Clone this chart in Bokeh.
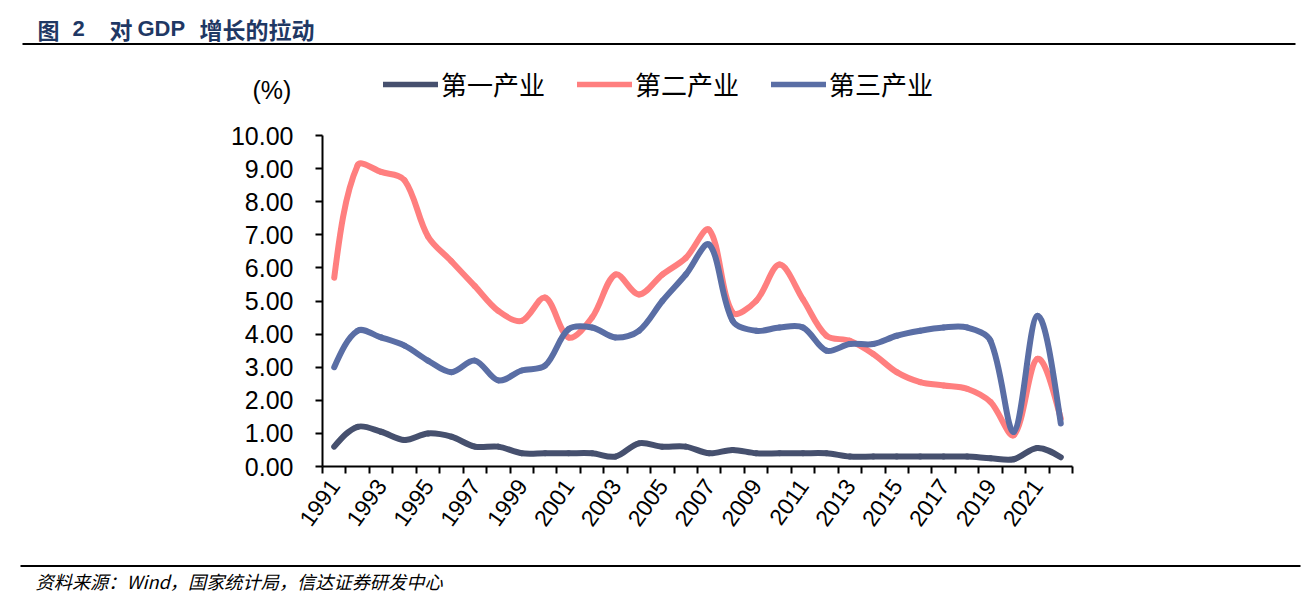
import math
from bokeh.plotting import figure
from bokeh.layouts import column
from bokeh.models import (Range1d, FixedTicker, SingleIntervalTicker, NumeralTickFormatter,
                          ColumnDataSource)
from bokeh.core.properties import value
from bokeh.embed import file_html
from bokeh.resources import INLINE

# ---------------- data ----------------
years = list(range(1991, 2023))
primary = [0.6, 1.2, 1.05, 0.8, 1.0, 0.9, 0.6, 0.6, 0.4, 0.4, 0.4, 0.4, 0.3, 0.7, 0.6, 0.6,
           0.4, 0.5, 0.4, 0.4, 0.4, 0.4, 0.3, 0.3, 0.3, 0.3, 0.3, 0.3, 0.25, 0.22, 0.56, 0.28]
secondary = [5.7, 9.1, 8.9, 8.65, 6.95, 6.2, 5.45, 4.7, 4.4, 5.1, 3.9, 4.5, 5.8, 5.2, 5.8, 6.3,
             7.15, 4.65, 5.0, 6.1, 5.05, 3.95, 3.8, 3.4, 2.85, 2.55, 2.45, 2.35, 1.95, 0.95, 3.25, 1.45]
tertiary = [3.0, 4.1, 3.9, 3.65, 3.2, 2.85, 3.2, 2.6, 2.9, 3.05, 4.15, 4.2, 3.9, 4.1, 5.0, 5.8,
            6.7, 4.4, 4.1, 4.2, 4.2, 3.5, 3.7, 3.7, 3.95, 4.1, 4.2, 4.2, 3.8, 1.05, 4.55, 1.3]
series_names = ["第一产业", "第二产业", "第三产业"]
series_colors = ["#46506E", "#FF7F7F", "#5A6EA5"]
label_years = [y for y in years if y % 2 == 1]
y_ticks_interval = 1
title_parts = ["图", "2", "对", "GDP", "增长的拉动"]
unit_text = "(%)"
source_text = "资料来源：Wind，国家统计局，信达证券研发中心"

CJK = "Noto Sans CJK SC"
LAT = "Liberation Sans"

# ---------------- layout ----------------
W = 1309
H_HEAD, H_MAIN, H_FOOT = 120, 430, 60
ML, MR, MT, MB = 322, 237, 15, 84
frame_w = W - ML - MR
frame_h = H_MAIN - MT - MB
x0, x1 = years[0] - 0.5, years[-1] + 0.5
y0, y1 = 0, 10
sx = frame_w / (x1 - x0)   # px per year
sy = frame_h / (y1 - y0)   # px per unit


def no_align(f):
    try:
        f.frame_align = False
    except Exception:
        pass


def blank(h):
    f = figure(width=W, height=h, output_backend="svg", toolbar_location=None,
               x_range=Range1d(0, W), y_range=Range1d(h, 0),
               x_axis_type=None, y_axis_type=None,
               min_border=0, min_border_left=0, min_border_right=0,
               min_border_top=0, min_border_bottom=0)
    f.outline_line_color = None
    f.grid.visible = False
    f.background_fill_color = "white"
    f.border_fill_color = "white"
    no_align(f)
    return f


# ---------------- header: title, rule, unit, legend ----------------
head = blank(H_HEAD)
title_x = [37, 72, 109, 137, 199]
title_font = [CJK, LAT, CJK, LAT, CJK]
title_size = ["22px", "22px", "23px", "22px", "23px"]
for tx, tt, tf, ts in zip(title_x, title_parts, title_font, title_size):
    head.text(x=[tx], y=[28], text=[tt], text_font=value(tf), text_font_style="bold",
              text_font_size=ts, text_color="#1F3864", text_baseline="middle")
head.line(x=[22, 1295], y=[43.5, 43.5], line_color="black", line_width=2)
head.text(x=[252], y=[89], text=[unit_text], text_font=value(LAT), text_font_size="25px",
          text_color="black", text_baseline="middle")
for col, name in zip(series_colors, series_names):
    # legend proxy (its points lie outside the visible header area)
    head.line(x=[-60, -50], y=[-60, -60], line_color=col, line_width=5.5, line_cap="round",
              legend_label=name)
lg = head.legend[0]
lg.orientation = "horizontal"
lg.location = (383, 18)
lg.border_line_color = None
lg.background_fill_alpha = 0
lg.padding = 0
lg.margin = 0
lg.spacing = 32
lg.glyph_width = 55
lg.glyph_height = 30
lg.label_height = 30
lg.label_standoff = 3
lg.label_text_font = CJK
lg.label_text_font_size = "26px"
lg.label_text_color = "black"
lg.label_text_baseline = "middle"

# ---------------- main chart ----------------
p = figure(width=W, height=H_MAIN, output_backend="svg", toolbar_location=None,
           x_range=Range1d(x0, x1), y_range=Range1d(y0, y1),
           min_border_left=ML, min_border_right=MR, min_border_top=MT, min_border_bottom=MB)
p.outline_line_color = None
p.grid.visible = False
p.background_fill_color = "white"
p.border_fill_color = "white"
no_align(p)


def smooth(xs, ys):
    """Excel-like smoothed line: cubic Bezier segments through the data points."""
    P = [((x - x0) * sx, y * sy) for x, y in zip(xs, ys)]
    n = len(P)
    cin = [None] * n
    cout = [None] * n
    for i in range(1, n - 1):
        d01 = math.hypot(P[i][0] - P[i - 1][0], P[i][1] - P[i - 1][1])
        d12 = math.hypot(P[i + 1][0] - P[i][0], P[i + 1][1] - P[i][1])
        tx = P[i + 1][0] - P[i - 1][0]
        ty = P[i + 1][1] - P[i - 1][1]
        s = d01 + d12
        a = d12 / s / 3.0
        b = d01 / s / 3.0
        cout[i] = (P[i][0] + tx * a, P[i][1] + ty * a)
        cin[i] = (P[i][0] - tx * b, P[i][1] - ty * b)
    cout[0] = (P[0][0] + (cin[1][0] - P[0][0]) / 2, P[0][1] + (cin[1][1] - P[0][1]) / 2)
    cin[n - 1] = (P[n - 1][0] + (cout[n - 2][0] - P[n - 1][0]) / 2,
                  P[n - 1][1] + (cout[n - 2][1] - P[n - 1][1]) / 2)
    d = dict(x0=[], y0=[], x1=[], y1=[], cx0=[], cy0=[], cx1=[], cy1=[])
    back = lambda q: (q[0] / sx + x0, q[1] / sy)
    for i in range(n - 1):
        a0, b0 = back(P[i]); a1, b1 = back(P[i + 1])
        c0x, c0y = back(cout[i]); c1x, c1y = back(cin[i + 1])
        d["x0"].append(a0); d["y0"].append(b0); d["x1"].append(a1); d["y1"].append(b1)
        d["cx0"].append(c0x); d["cy0"].append(c0y); d["cx1"].append(c1x); d["cy1"].append(c1y)
    return ColumnDataSource(d)


for vals, col in zip([primary, secondary, tertiary], series_colors):
    p.bezier(x0="x0", y0="y0", x1="x1", y1="y1", cx0="cx0", cy0="cy0", cx1="cx1", cy1="cy1",
             source=smooth(years, vals), line_color=col, line_width=6,
             line_cap="round", line_join="round")

# x axis
xa = p.xaxis[0]
xa.ticker = FixedTicker(ticks=label_years, minor_ticks=[y - 0.5 for y in years] + [years[-1] + 0.5])
xa.major_label_overrides = {y: str(y) for y in label_years}
xa.major_tick_out = 0
xa.major_tick_in = 0
xa.minor_tick_out = 7
xa.minor_tick_in = 0
xa.minor_tick_line_color = "black"
xa.minor_tick_line_width = 2
xa.axis_line_color = "black"
xa.axis_line_width = 2
xa.major_label_orientation = 0.95
xa.major_label_standoff = 8
xa.major_label_text_font = LAT
xa.major_label_text_font_size = "23px"
xa.major_label_text_color = "black"

# y axis
ya = p.yaxis[0]
ya.ticker = SingleIntervalTicker(interval=y_ticks_interval, num_minor_ticks=0)
ya.formatter = NumeralTickFormatter(format="0.00")
ya.major_tick_out = 7
ya.major_tick_in = 0
ya.minor_tick_out = 0
ya.minor_tick_in = 0
ya.major_tick_line_width = 2
ya.major_tick_line_color = "black"
ya.axis_line_color = "black"
ya.axis_line_width = 2
ya.major_label_standoff = 22
ya.major_label_text_font = LAT
ya.major_label_text_font_size = "25px"
ya.major_label_text_color = "black"

# ---------------- footer ----------------
foot = blank(H_FOOT)
foot.line(x=[20, 1300], y=[15.5, 15.5], line_color="black", line_width=2)
foot.text(x=[35], y=[30], text=[source_text], text_font=value(CJK), text_font_style="italic",
          text_font_size="18.2px", text_color="black", text_baseline="middle")

layout = column(head, p, foot, spacing=0)
open("out.html", "w").write(file_html(layout, INLINE))
